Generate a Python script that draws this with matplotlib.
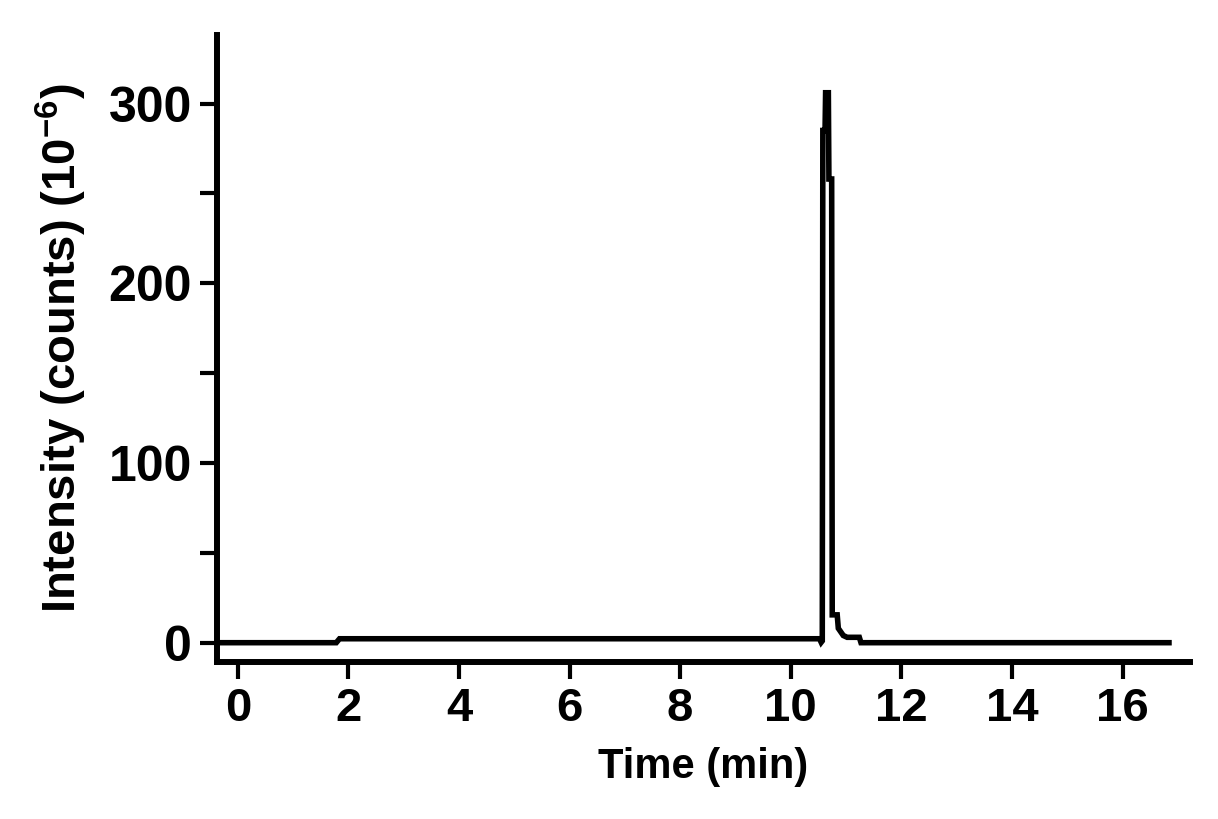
import numpy as np
import matplotlib.pyplot as plt

# chromatogram trace (time in min, intensity in counts x 1e-6)
time = [-0.38, 1.78, 1.84, 10.52, 10.55, 10.57, 10.58, 10.62, 10.63, 10.68,
        10.69, 10.74, 10.75, 10.84, 10.86, 10.95, 11.02, 11.24, 11.27, 16.84]
intensity = [0.0, 0.0, 2.2, 2.2, 0.2, 1.0, 285, 285, 306, 306,
             258, 258, 15.5, 15.5, 8, 4, 3, 3, 0.0, 0.0]

xticks = [0, 2, 4, 6, 8, 10, 12, 14, 16]
yticks = [0, 100, 200, 300]
yminor = [50, 150, 250]

plt.rcParams['font.family'] = ['Liberation Sans', 'DejaVu Sans']
plt.rcParams['font.weight'] = 'bold'
plt.rcParams['mathtext.fontset'] = 'custom'
plt.rcParams['mathtext.rm'] = 'Liberation Sans:bold'
plt.rcParams['mathtext.default'] = 'rm'

fig = plt.figure(figsize=(12.18, 8.19), dpi=100)
ax = fig.add_axes([0.178, 0.192, 0.799, 0.765])

ax.plot(time, intensity, color='black', lw=4.0, solid_joinstyle='miter')

ax.set_xlim(-0.38, 17.22)
ax.set_ylim(-10.6, 338)
ax.set_xticks(xticks)
ax.set_yticks(yticks)
ax.set_yticks(yminor, minor=True)

for s in ['top', 'right']:
    ax.spines[s].set_visible(False)
for s in ['left', 'bottom']:
    ax.spines[s].set_linewidth(4.3)

ax.tick_params(axis='y', which='both', direction='out', length=12, width=3, pad=6, labelsize=36)
ax.tick_params(axis='x', direction='out', length=12, width=3, pad=6, labelsize=34)

ax.set_xlabel('Time (min)', fontsize=30, fontweight='bold', labelpad=12)
ax.set_ylabel('Intensity (counts) (10$^{-6}$)', fontsize=34, fontweight='bold', labelpad=14)

fig.savefig('out.png', dpi=100)
